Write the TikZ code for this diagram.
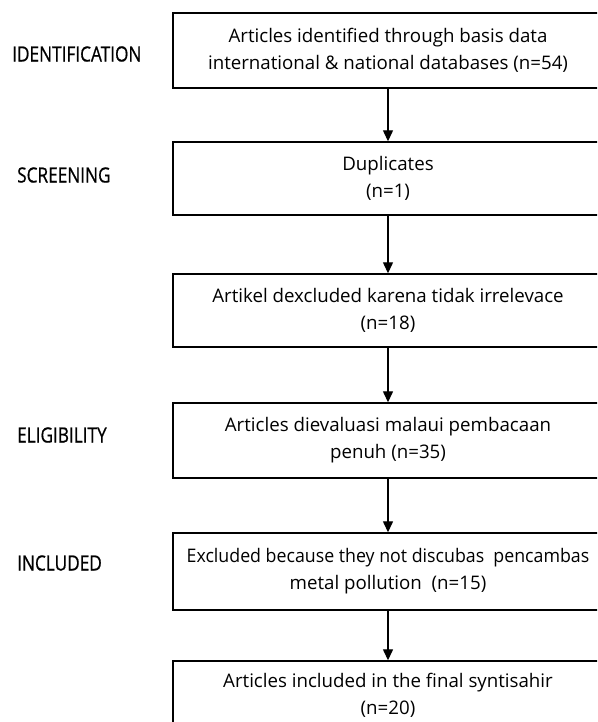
\documentclass[tikz,border=0pt]{standalone}
\usepackage{fontspec}
\setmainfont{Open Sans}
\newfontfamily\stagefont[FakeBold=0.8]{Open Sans}
\usetikzlibrary{arrows.meta}
\begin{document}
\begin{tikzpicture}[x=1pt,y=-1pt,
  flowbox/.style={draw=black,line width=1.4pt,fill=white,minimum width=430pt,align=center,
    inner sep=0pt,font=\fontsize{18.7}{27}\selectfont},
  stagelabel/.style={anchor=west,inner sep=0pt,font=\stagefont\fontsize{21}{24}\selectfont},
  flowarrow/.style={line width=1.3pt,-{Triangle[length=11pt,width=10pt]}}]
\useasboundingbox (0,0) rectangle (597,722);
\clip (0,0) rectangle (597,722);
\fill[white] (0,0) rectangle (597,722);
\node[flowbox,minimum height=75pt] (b1) at (388,50.5) {Articles identified through basis data\\international \& national databases (n=54)};
\node[flowbox,minimum height=73pt] (b2) at (388,178.5) {Duplicates\\(n=1)};
\node[flowbox,minimum height=73pt] (b3) at (388,310.5) {Artikel dexcluded karena tidak irrelevace\\(n=18)};
\node[flowbox,minimum height=75pt] (b4) at (388,440.5) {Articles dievaluasi malaui pembacaan\\penuh (n=35)};
\node[flowbox,minimum height=77pt] (b5) at (388,571.5) {\scalebox{0.95}[1]{Excluded because they not discubas\ \ pencambas}\\metal pollution\ \ (n=15)};
\node[flowbox,minimum height=69pt] (b6) at (388,695.5) {Articles included in the final syntisahir\\(n=20)};
\draw[flowarrow] (b1.south) -- (b2.north);
\draw[flowarrow] (b2.south) -- (b3.north);
\draw[flowarrow] (b3.south) -- (b4.north);
\draw[flowarrow] (b4.south) -- (b5.north);
\draw[flowarrow] (b5.south) -- (b6.north);
\node[stagelabel] (l1) at (12,54) {\scalebox{0.82}[1]{IDENTIFICATION}};
\node[stagelabel] (l2) at (17,175) {\scalebox{0.82}[1]{SCREENING}};
\node[stagelabel] (l3) at (17,435) {\scalebox{0.82}[1]{ELIGIBILITY}};
\node[stagelabel] (l4) at (17,563) {\scalebox{0.82}[1]{INCLUDED}};
\end{tikzpicture}
\end{document}
